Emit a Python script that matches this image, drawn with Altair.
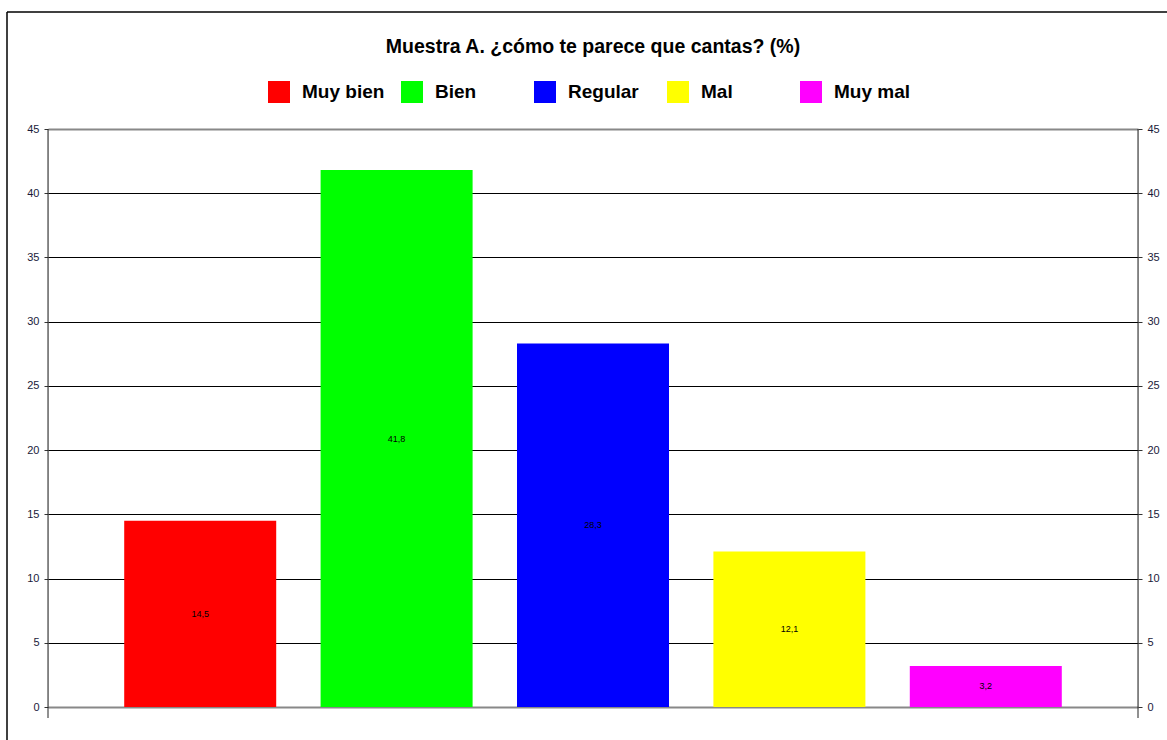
import altair as alt
import pandas as pd

categories = ["Muy bien", "Bien", "Regular", "Mal", "Muy mal"]
values = [14.5, 41.8, 28.3, 12.1, 3.2]
value_labels = ["14,5", "41,8", "28,3", "12,1", "3,2"]
colors = ["#FF0000", "#00FF00", "#0000FF", "#FFFF00", "#FF00FF"]
y_ticks = [0, 5, 10, 15, 20, 25, 30, 35, 40, 45]

df = pd.DataFrame({"cat": categories, "value": values, "label": value_labels})

W, H = 1090, 578
FONT = "Liberation Sans"

xscale = alt.Scale(domain=categories, paddingInner=0.224, paddingOuter=0.387)
yscale = alt.Scale(domain=[0, 45], nice=False)
color_scale = alt.Scale(domain=categories, range=colors)

base = alt.Chart(df)

bars = base.mark_bar(size=152).encode(
    x=alt.X("cat:N", scale=xscale, sort=categories, axis=None),
    y=alt.Y("value:Q", scale=yscale, axis=alt.Axis(
        orient="left", values=y_ticks, title=None, domain=False,
        grid=True,
        gridColor={"condition": {"test": "datum.value == 0 || datum.value == 45", "value": "#888888"}, "value": "#000000"},
        gridWidth={"condition": {"test": "datum.value == 0 || datum.value == 45", "value": 2}, "value": 1},
        tickColor="#333333", tickSize=4, labelPadding=5,
        labelFont=FONT, labelFontSize=11, labelColor="#1a1a3a")),
    color=alt.Color("cat:N", scale=color_scale, sort=categories, legend=alt.Legend(
        title=None, orient="none", legendX=220, legendY=-48, direction="horizontal",
        columns=5, gridAlign="all", columnPadding=16, symbolType="square",
        symbolSize=484, symbolStrokeWidth=0, symbolOpacity=1, labelOffset=12, padding=0,
        labelFont=FONT, labelFontSize=19, labelFontWeight="bold", labelColor="#000000",
        labelLimit=200)),
)

texts = base.transform_calculate(mid="datum.value / 2").mark_text(
    font=FONT, fontSize=9, color="#000000", baseline="middle"
).encode(
    x=alt.X("cat:N", scale=xscale, sort=categories, axis=None),
    y=alt.Y("mid:Q", scale=yscale, axis=alt.Axis(
        orient="right", values=y_ticks, title=None, domain=False, grid=False,
        tickColor="#333333", tickSize=4, labelPadding=5,
        labelFont=FONT, labelFontSize=11, labelColor="#1a1a3a")),
    text="label:N",
)

axis_df = pd.DataFrame({"side": ["left", "right"]})
vlines_left = alt.Chart(axis_df.iloc[:1]).mark_rule(color="#222222", strokeWidth=1).encode(
    x=alt.value(0), y=alt.value(0), y2=alt.value(H + 11))
vlines_right = alt.Chart(axis_df.iloc[1:]).mark_rule(color="#222222", strokeWidth=1).encode(
    x=alt.value(W), y=alt.value(0), y2=alt.value(H + 11))

frame_left = alt.Chart(axis_df.iloc[:1]).mark_rule(color="#000000", strokeWidth=1.5).encode(
    x=alt.value(-41), y=alt.value(-117), y2=alt.value(H + 40))
frame_top = alt.Chart(axis_df.iloc[:1]).mark_rule(color="#000000", strokeWidth=1.5).encode(
    x=alt.value(-41), x2=alt.value(W + 40), y=alt.value(-117))

chart = alt.layer(bars, texts, vlines_left, vlines_right, frame_left, frame_top).resolve_axis(
    y="independent"
).properties(
    width=W, height=H,
    title=alt.Title("Muestra A. ¿cómo te parece que cantas? (%)", font=FONT, fontSize=19.5,
                    fontWeight="bold", color="#000000", anchor="middle", offset=-46),
    autosize=alt.AutoSizeParams(type="none"),
    padding={"left": 48, "right": 29, "top": 129, "bottom": 33},
).configure_view(stroke=None).configure(background="white")

chart.save("out.html", embed_options={"renderer": "svg", "actions": False})
